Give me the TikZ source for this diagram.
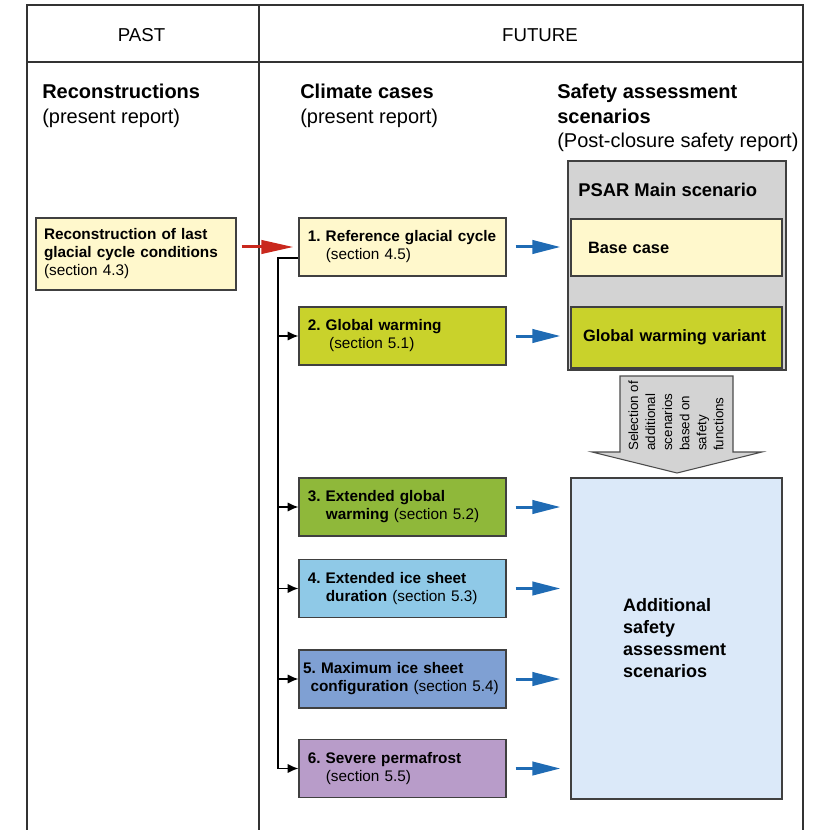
\documentclass[tikz,border=0pt]{standalone}
\usepackage{fontspec}
\setmainfont{Liberation Sans}
\usetikzlibrary{arrows.meta,calc}

\definecolor{paleyellow}{HTML}{FFF8CC}
\definecolor{limegreen}{HTML}{C9D22B}
\definecolor{grassgreen}{HTML}{8FB83A}
\definecolor{skyblue}{HTML}{8FC9E7}
\definecolor{midblue}{HTML}{7FA0D3}
\definecolor{lilac}{HTML}{B89CC9}
\definecolor{paleblue}{HTML}{DBE9F9}
\definecolor{psargray}{HTML}{D3D3D3}
\definecolor{arrowred}{HTML}{C9281D}
\definecolor{arrowblue}{HTML}{1F6BB4}

\tikzset{
  frameline/.style={line width=1.1pt, draw=black!80},
  headtext/.style={font=\fontsize{15}{18.4}\selectfont, align=left, inner sep=0pt, anchor=north west},
  casebox/.style={draw=black!75, line width=0.9pt, minimum width=155.25pt, minimum height=43.5pt,
    text width=147pt, inner xsep=4pt, inner ysep=0pt, align=left,
    font=\fontsize{11.5}{13.5}\selectfont,
    execute at begin node={\frenchspacing\hyphenpenalty=10000\relax}},
  scenbox/.style={draw=black!75, line width=0.9pt, minimum width=158.25pt, align=left,
    font=\bfseries\fontsize{12.3}{14.5}\selectfont},
  treeline/.style={line width=1.1pt, draw=black},
  bluearrow/.style={arrowblue, line width=2.25pt, -{Triangle[length=21pt,width=10pt]},
    shorten <=6.75pt, shorten >=7.5pt},
  redarrow/.style={arrowred, line width=2.25pt, -{Triangle[length=24pt,width=10pt]},
    shorten <=3.75pt, shorten >=3.75pt}
}

\begin{document}
\begin{tikzpicture}[x=0.75pt,y=-0.75pt]
\useasboundingbox (0,0) rectangle (816,830);

% table frame
\draw[frameline] (27,830) -- (27,5) -- (803,5) -- (803,830);
\draw[frameline] (27,62) -- (803,62);
\draw[frameline] (259,5) -- (259,830);

\node[font=\fontsize{14}{16}\selectfont] (past) at (141.5,35) {PAST};
\node[font=\fontsize{14}{16}\selectfont] (future) at (540,35) {FUTURE};

\node[headtext] (recohead) at (42,84) {\textbf{Reconstructions}\\(present report)};
\node[headtext] (casehead) at (300,84) {\textbf{Climate cases}\\(present report)};
\node[headtext] (scenhead) at (557,84) {\textbf{Safety assessment}\\\textbf{scenarios}\\(Post-closure safety report)};

% past
\node[casebox, fill=paleyellow, minimum width=150pt, minimum height=54pt, text width=138pt, inner xsep=6pt] (recon) at (136,254)
  {\textbf{Reconstruction of last}\\\textbf{glacial cycle conditions}\\(section 4.3)};

% climate cases
\node[casebox, fill=paleyellow] (case1) at (402.5,247) {\hspace*{2.5pt}\textbf{1. Reference glacial cycle}\\\hspace*{16pt}(section 4.5)};
\node[casebox, fill=limegreen] (case2) at (402.5,336) {\hspace*{2.5pt}\textbf{2. Global warming}\\\hspace*{18.5pt}(section 5.1)};
\node[casebox, fill=grassgreen] (case3) at (402.5,507) {\hspace*{2.5pt}\textbf{3. Extended global}\\\hspace*{16pt}\textbf{warming} (section 5.2)};
\node[casebox, fill=skyblue] (case4) at (402.5,588.5) {\hspace*{2.5pt}\textbf{4. Extended ice sheet}\\\hspace*{16pt}\textbf{duration} (section 5.3)};
\node[casebox, fill=midblue, text width=152pt, inner xsep=1.6pt] (case5) at (402.5,679)
  {\hspace*{1.5pt}\textbf{5. Maximum ice sheet}\\\mbox{\hspace*{7pt}\textbf{configuration} (section 5.4)}};
\node[casebox, fill=lilac] (case6) at (402.5,768.5) {\hspace*{2.5pt}\textbf{6. Severe permafrost}\\\hspace*{16pt}(section 5.5)};

% safety assessment scenarios
\node[draw=black!75, line width=0.9pt, fill=psargray, minimum width=163.5pt, minimum height=156.75pt] (psar) at (677,265.5) {};
\node[font=\bfseries\fontsize{13.8}{16}\selectfont, anchor=west, inner sep=0pt] (psartitle) at (578,190) {PSAR Main scenario};
\node[scenbox, fill=paleyellow, minimum height=42.75pt, inner xsep=12.75pt, text width=132.75pt] (base) at (676.5,247.5) {Base case};
\node[scenbox, fill=limegreen, minimum height=45.75pt, inner xsep=9pt, text width=140.25pt] (gwv) at (676.5,337.5) {Global warming variant};

\draw[draw=black!70, line width=0.8pt, fill=psargray] (620,376) -- (733,376) -- (733,452) -- (762,452)
  -- (677,473) -- (592,452) -- (620,452) -- cycle;
\node[rotate=90, anchor=west, align=left, inner sep=0pt, font=\fontsize{10}{12.8}\selectfont] (select) at (676,451)
  {Selection of\\additional\\scenarios\\based on\\safety\\functions};

\node[draw=black!75, line width=0.9pt, fill=paleblue, minimum width=158.25pt, minimum height=240.75pt,
  text width=80pt, align=left, font=\bfseries\fontsize{13.5}{16.5}\selectfont] (addl) at (676.5,638.5)
  {Additional\\safety\\assessment\\scenarios};

% connectors
\draw[redarrow] (recon.east |- case1.west) -- (case1.west);

\coordinate (fork) at (278,258);
\draw[treeline] (case1.west |- fork) -- (fork) -- (fork |- case6.west);
\foreach \c in {case2,case3,case4,case5,case6}
  \draw[treeline,-{Latex[length=8pt,width=7pt]}] (fork |- \c.west) -- (\c.west);

\draw[bluearrow] (case1.east) -- (case1.east -| base.west);
\draw[bluearrow] (case2.east) -- (case2.east -| gwv.west);
\foreach \c in {case3,case4,case5,case6}
  \draw[bluearrow] (\c.east) -- (\c.east -| addl.west);

\end{tikzpicture}
\end{document}
